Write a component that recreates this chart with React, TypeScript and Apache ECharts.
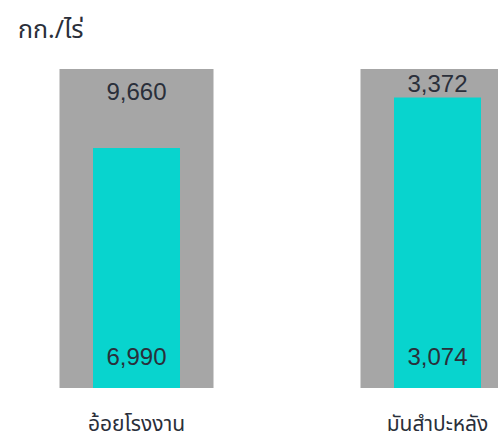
import React, { useEffect, useRef } from "react";
import * as echarts from "echarts";

const unitTitle = "กก./ไร่";
const categories = ["อ้อยโรงงาน", "มันสำปะหลัง"];
const targetValues = [9660, 3372];
const actualValues = [6990, 3074];
const targetPercent = [100, 100];
const actualPercent = [75.2, 91.1];

const FONT = "'Noto Sans Thai', 'Noto Sans', 'DejaVu Sans', sans-serif";
const NUM_FONT = "'Liberation Sans', Arial, sans-serif";
const fmt = (v: number) => v.toLocaleString("en-US");

const SHIFT = 14;

export default function App() {
  const ref = useRef<HTMLDivElement>(null);
  useEffect(() => {
    if (!ref.current) return;
    const chart = echarts.init(ref.current, undefined, { renderer: "svg" });
    chart.setOption({
      animation: false,
      textStyle: { fontFamily: FONT },
      title: {
        text: unitTitle,
        left: 13 + SHIFT,
        top: 12,
        textStyle: { fontSize: 25, fontWeight: "normal", color: "#2a2f3a", fontFamily: FONT },
      },
      grid: { left: 0, width: 602, top: 69, bottom: 51, containLabel: false },
      xAxis: [
        {
          type: "category",
          data: categories,
          axisLine: { show: false },
          axisTick: { show: false },
          axisLabel: {
            fontSize: 21,
            lineHeight: 24,
            color: "#2a2f3a",
            margin: 24,
            fontFamily: FONT,
          },
        },
        {
          type: "category",
          data: categories,
          show: false,
        },
      ],
      yAxis: { type: "value", min: 0, max: 100, show: false },
      series: [
        {
          type: "bar",
          xAxisIndex: 1,
          barWidth: 154,
          data: targetPercent.map((v, i) => ({
            value: v,
            label: {
              show: true,
              position: "insideTop",
              distance: i === 0 ? 10 : 2,
              formatter: () => fmt(targetValues[i]),
              fontSize: 24,
              color: "#2a2f3a",
              fontFamily: NUM_FONT,
            },
          })),
          itemStyle: { color: "#a6a6a6" },
          z: 1,
        },
        {
          type: "bar",
          xAxisIndex: 0,
          barWidth: 87,
          data: actualPercent.map((v, i) => ({
            value: v,
            label: {
              show: true,
              position: "insideBottom",
              distance: 20,
              formatter: () => fmt(actualValues[i]),
              fontSize: 24,
              color: "#2a2f3a",
              fontFamily: NUM_FONT,
            },
          })),
          itemStyle: { color: "#08d4ce" },
          z: 2,
        },
      ],
    });
    return () => chart.dispose();
  }, []);
  return (
    <div
      style={{ position: "absolute", left: 0, top: 0, width: 498, height: 439, overflow: "hidden" }}
    >
      <div
        ref={ref}
        style={{ position: "absolute", left: -SHIFT, top: 0, width: 602, height: 439 }}
      />
    </div>
  );
}
